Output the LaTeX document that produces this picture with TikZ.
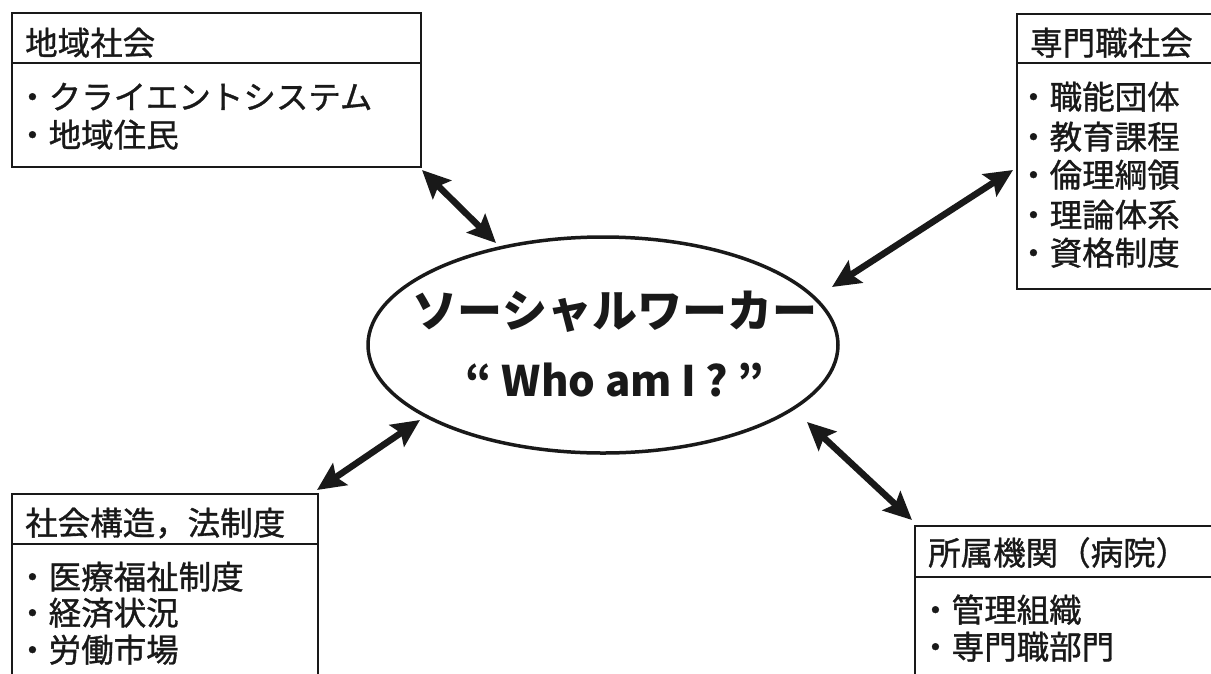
\documentclass[tikz,border=0pt]{standalone}
\usepackage{fontspec}
\setmainfont{Noto Sans CJK JP}
\newfontfamily\boxfont[FakeBold=1]{Noto Sans CJK JP}
\usetikzlibrary{arrows.meta}
\tikzset{
  box/.style={draw=black!90, line width=1.8pt, rectangle, inner sep=0pt, anchor=north west},
  divline/.style={draw=black!90, line width=1.8pt},
  txt/.style={anchor=base west, inner sep=0pt, font=\boxfont\fontsize{32.5}{39}\selectfont, text=black!90},
  big/.style={inner sep=0pt, font=\fontsize{45}{54}\selectfont\bfseries, text=black!90},
  dblarrow/.style={line width=6.5pt, black!90, {Stealth[length=28pt,width=26pt,inset=5pt]}-{Stealth[length=28pt,width=26pt,inset=5pt]}},
}
\begin{document}
\begin{tikzpicture}[x=1pt,y=-1pt]
\useasboundingbox (0,0) rectangle (1211,673);
\clip (0,0) rectangle (1211,673);
\fill[white] (0,0) rectangle (1211,673);

% box 1: 地域社会
\node[box, minimum width=409pt, minimum height=154pt] (b1) at (11,12) {};
\draw[divline] ([yshift=-51pt]b1.north west) -- ([yshift=-51pt]b1.north east);
\node[txt] (b1t) at (25,55) {地域社会};
\node[txt] (b1i1) at (16,109) {・クライエントシステム};
\node[txt] (b1i2) at (16,147) {・地域住民};

% box 2: 専門職社会
\node[box, minimum width=214pt, minimum height=275pt] (b2) at (1016,13) {};
\draw[divline] ([yshift=-50pt]b2.north west) -- ([yshift=-50pt]b2.north east);
\node[txt] (b2t) at (1030,55) {専門職社会};
\node[txt] (b2i1) at (1017,109) {・職能団体};
\node[txt] (b2i2) at (1017,149) {・教育課程};
\node[txt] (b2i3) at (1017,187) {・倫理綱領};
\node[txt] (b2i4) at (1017,227) {・理論体系};
\node[txt] (b2i5) at (1017,265) {・資格制度};

% box 3: 社会構造，法制度
\node[box, minimum width=306pt, minimum height=200pt] (b3) at (11,493) {};
\draw[divline] ([yshift=-51pt]b3.north west) -- ([yshift=-51pt]b3.north east);
\node[txt] (b3t) at (25,535) {社会構造，法制度};
\node[txt] (b3i1) at (16,589) {・医療福祉制度};
\node[txt] (b3i2) at (16,625) {・経済状況};
\node[txt] (b3i3) at (16,662) {・労働市場};

% box 4: 所属機関（病院）
\node[box, minimum width=316pt, minimum height=170pt] (b4) at (914,525) {};
\draw[divline] ([yshift=-52pt]b4.north west) -- ([yshift=-52pt]b4.north east);
\node[txt] (b4t) at (928,565) {所属機関（病院）};
\node[txt] (b4i1) at (919,622) {・管理組織};
\node[txt] (b4i2) at (919,659) {・専門職部門};

% central ellipse
\draw[line width=3.5pt, black!90] (603,345) ellipse [x radius=235, y radius=108];
\coordinate (ec) at (603,345);
\node[big] (e1) at (615,312) {ソーシャルワーカー};
\node[big, font=\fontsize{42}{50}\selectfont\bfseries] (e2) at (615,380) {“ Who am I ? ”};

% arrows
\coordinate (a1s) at (422,170);
\coordinate (a1e) at (496,243);
\coordinate (a2s) at (1013,170);
\coordinate (a2e) at (832,287);
\coordinate (a3s) at (420,420);
\coordinate (a3e) at (317,490);
\coordinate (a4s) at (807,422);
\coordinate (a4e) at (912,520);
\draw[dblarrow] (a1s) -- (a1e);
\draw[dblarrow] (a2s) -- (a2e);
\draw[dblarrow] (a3s) -- (a3e);
\draw[dblarrow] (a4s) -- (a4e);
\end{tikzpicture}
\end{document}
